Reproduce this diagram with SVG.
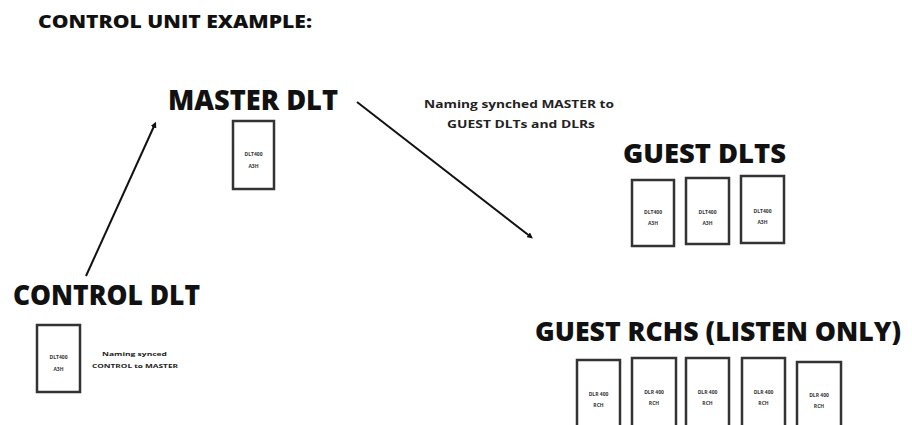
<svg xmlns="http://www.w3.org/2000/svg" width="912" height="425" viewBox="0 0 912 425">
<defs>
<style>
.h{font-family:"Open Sans","DejaVu Sans",sans-serif;font-weight:800;fill:#111}
.s{font-family:"Open Sans","DejaVu Sans",sans-serif;font-weight:700;fill:#222}
.t{font-family:"Open Sans","DejaVu Sans",sans-serif;font-weight:700;fill:#333;font-size:5px;text-anchor:middle}
.b{fill:#fff;stroke:#333;stroke-width:2.5}
.c{stroke:#111;stroke-width:2;fill:none;marker-end:url(#ah)}
</style>
<marker id="ah" viewBox="0 0 10 10" refX="6" refY="5" markerWidth="3" markerHeight="3" orient="auto">
<path d="M0,0 L10,5 L0,10 z" fill="#111"/>
</marker>
</defs>
<rect width="912" height="425" fill="#fff"/>
<text class="h" x="38" y="28" font-size="17" textLength="274" lengthAdjust="spacingAndGlyphs">CONTROL UNIT EXAMPLE:</text>
<g id="connectors">
<line class="c" x1="86" y1="276" x2="155" y2="124"/>
<line class="c" x1="357" y1="102" x2="531" y2="237"/>
</g>
<g id="master">
<text class="h" x="168" y="110" font-size="28" textLength="170" lengthAdjust="spacingAndGlyphs">MASTER DLT</text>
<rect class="b" x="233" y="121" width="41" height="68"/>
<text class="t" x="253.5" y="156">DLT400</text>
<text class="t" x="253.5" y="168">A3H</text>
</g>
<g id="sync-label">
<text class="s" x="519" y="108" font-size="11" text-anchor="middle" textLength="190" lengthAdjust="spacingAndGlyphs">Naming synched MASTER to</text>
<text class="s" x="521" y="128" font-size="11" text-anchor="middle" textLength="148" lengthAdjust="spacingAndGlyphs">GUEST DLTs and DLRs</text>
</g>
<g id="guest-dlts">
<text class="h" x="623" y="163" font-size="27" textLength="163" lengthAdjust="spacingAndGlyphs">GUEST DLTS</text>
<rect class="b" x="632" y="180" width="42" height="66"/>
<text class="t" x="653" y="214">DLT400</text>
<text class="t" x="653" y="225">A3H</text>
<rect class="b" x="686" y="178" width="43" height="66"/>
<text class="t" x="707.5" y="214">DLT400</text>
<text class="t" x="707.5" y="225">A3H</text>
<rect class="b" x="741" y="176" width="43" height="67"/>
<text class="t" x="762.5" y="213">DLT400</text>
<text class="t" x="762.5" y="224">A3H</text>
</g>
<g id="control">
<text class="h" x="13" y="305" font-size="28" textLength="187" lengthAdjust="spacingAndGlyphs">CONTROL DLT</text>
<rect class="b" x="37" y="325" width="43" height="67"/>
<text class="t" x="58.5" y="359">DLT400</text>
<text class="t" x="58.5" y="371">A3H</text>
<text class="s" x="134.5" y="356" font-size="6" text-anchor="middle" textLength="65" lengthAdjust="spacingAndGlyphs">Naming synced</text>
<text class="s" x="135" y="368" font-size="6" text-anchor="middle" textLength="86" lengthAdjust="spacingAndGlyphs">CONTROL to MASTER</text>
</g>
<g id="guest-rchs">
<text class="h" x="535" y="341" font-size="26" textLength="366" lengthAdjust="spacingAndGlyphs">GUEST RCHS (LISTEN ONLY)</text>
<rect class="b" x="577" y="360" width="43" height="75"/>
<text class="t" x="598.5" y="396">DLR 400</text>
<text class="t" x="598.5" y="407">RCH</text>
<rect class="b" x="632" y="358" width="44" height="75"/>
<text class="t" x="654" y="394">DLR 400</text>
<text class="t" x="654" y="405">RCH</text>
<rect class="b" x="686" y="358" width="43" height="75"/>
<text class="t" x="707.5" y="394">DLR 400</text>
<text class="t" x="707.5" y="405">RCH</text>
<rect class="b" x="742" y="358" width="43" height="75"/>
<text class="t" x="763.5" y="394">DLR 400</text>
<text class="t" x="763.5" y="405">RCH</text>
<rect class="b" x="797" y="362" width="44" height="75"/>
<text class="t" x="819" y="397">DLR 400</text>
<text class="t" x="819" y="408">RCH</text>
</g>
</svg>
